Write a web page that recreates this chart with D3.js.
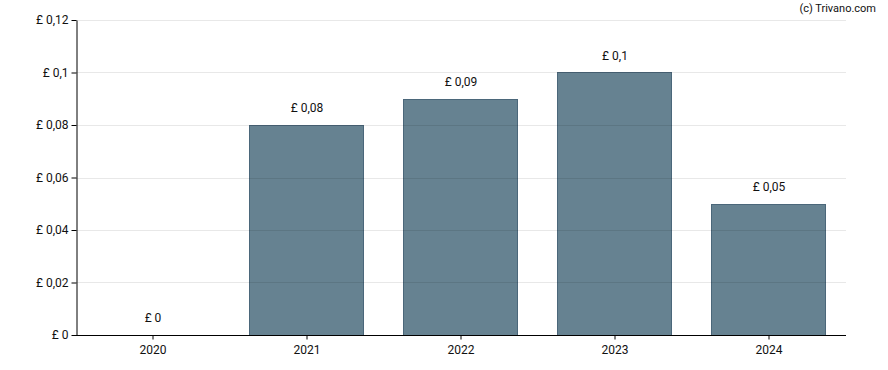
<!DOCTYPE html>
<html><head><meta charset="utf-8">
<script src="https://cdn.jsdelivr.net/npm/d3@7"></script>
<style>body{margin:0;background:#fff}svg{display:block;font-family:Roboto,"Open Sans",sans-serif}</style>
</head><body><svg id="c" width="888" height="370"></svg>
<script>
const years = ["2020","2021","2022","2023","2024"];
const values = [0, 0.08, 0.09, 0.1, 0.05];
const valueLabels = ["£ 0","£ 0,08","£ 0,09","£ 0,1","£ 0,05"];
const yTicks = [0, 0.02, 0.04, 0.06, 0.08, 0.1, 0.12];
const yTickLabels = ["£ 0","£ 0,02","£ 0,04","£ 0,06","£ 0,08","£ 0,1","£ 0,12"];

const svg = d3.select("#c");
const m = {l:76, r:42, t:20, b:35};
const W = 888, H = 370;
const x = d3.scaleBand().domain(years).range([m.l, W - m.r]).paddingInner(0.26).paddingOuter(0.13);
const y = d3.scaleLinear().domain([0, 0.12]).range([H - m.b, m.t]);

// bars
svg.append("g").selectAll("rect").data(values).join("rect")
  .attr("x", (d,i) => Math.round(x(years[i])) - 0.5)
  .attr("y", d => Math.round(y(d)) + 0.5)
  .attr("width", Math.round(x.bandwidth()))
  .attr("height", d => Math.max(0, y(0) - Math.round(y(d))))
  .attr("fill", "#668291")
  .attr("stroke", "#4b677a")
  .attr("stroke-width", 1)
  .style("display", d => d > 0 ? null : "none");

// gridlines
svg.append("g").selectAll("line").data(yTicks.filter(d => d > 0)).join("line")
  .attr("x1", m.l).attr("x2", W - m.r)
  .attr("y1", d => Math.round(y(d)) + 0.5).attr("y2", d => Math.round(y(d)) + 0.5)
  .attr("stroke", "#000").attr("stroke-opacity", 0.09).attr("stroke-width", 1);

// y axis
const ya = svg.append("g").attr("transform", `translate(${m.l + 0.5},0)`)
  .call(d3.axisLeft(y).tickValues(yTicks).tickFormat((d,i) => yTickLabels[i]).tickSize(5).tickPadding(3).tickSizeOuter(0));
ya.select(".domain").attr("stroke", "#000");
ya.selectAll("text").attr("font-size", 12).attr("fill", "#111").style("font-family", "Roboto");

// x axis
const xa = svg.append("g").attr("transform", `translate(0,${y(0) + 0.5})`)
  .call(d3.axisBottom(x).tickSize(4).tickPadding(6).tickSizeOuter(0));
xa.select(".domain").attr("stroke", "#000").attr("d", `M${m.l},0H${W - m.r}`);
xa.selectAll("text").attr("font-size", 12).attr("fill", "#111").style("font-family", "Roboto");

// value labels
svg.append("g").selectAll("text").data(values).join("text")
  .attr("x", (d,i) => x(years[i]) + x.bandwidth()/2)
  .attr("y", d => y(d) - 13)
  .attr("text-anchor", "middle")
  .attr("font-size", 12).attr("fill", "#111")
  .text((d,i) => valueLabels[i]);

svg.append("text").attr("x", 876).attr("y", 12).attr("text-anchor", "end")
  .attr("font-size", 11).attr("fill", "#111").text("(c) Trivano.com");
</script></body></html>
